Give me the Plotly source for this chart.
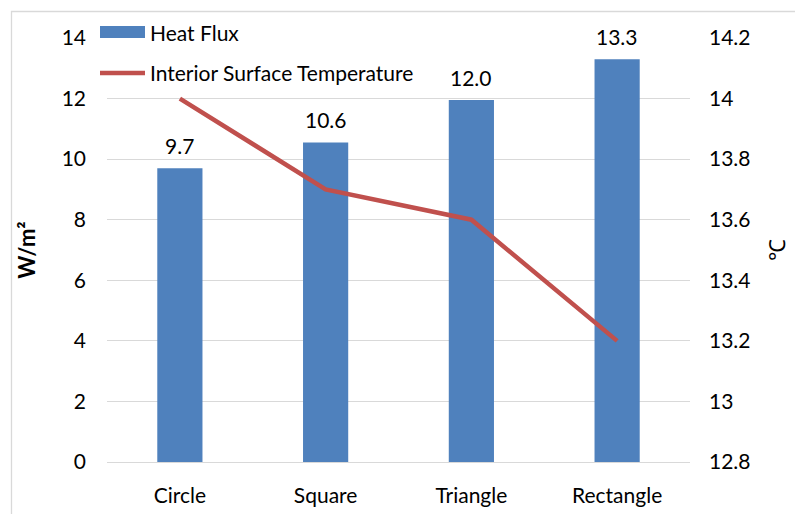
import plotly.graph_objects as go

categories = ["Circle", "Square", "Triangle", "Rectangle"]
heat_flux = [9.7, 10.55, 11.95, 13.3]
heat_flux_labels = ["9.7", "10.6", "12.0", "13.3"]
surface_temp = [14.0, 13.7, 13.6, 13.2]

left_ticks = [0, 2, 4, 6, 8, 10, 12, 14]
right_ticks = [12.8, 13.0, 13.2, 13.4, 13.6, 13.8, 14.0, 14.2]
right_tick_text = ["12.8", "13", "13.2", "13.4", "13.6", "13.8", "14", "14.2"]

FONT = "Lato"
FS = 21
BAR_COLOR = "#4F81BD"
LINE_COLOR = "#C0504D"
W, H = 803, 514
OFF = 8  # page body offset
L, R, T, B = 107 - OFF, 690 - OFF, 38 - OFF, 462 - OFF


def px(x):
    return (x - OFF - L) / (R - L)


def py(y):
    return (B - (y - OFF)) / (B - T)


fig = go.Figure()
fig.add_trace(go.Bar(
    x=categories, y=heat_flux, name="Heat Flux",
    marker=dict(color=BAR_COLOR, line=dict(width=0)),
    width=0.31, yaxis="y", showlegend=False,
))
fig.add_trace(go.Scatter(
    x=categories, y=surface_temp, name="Interior Surface Temperature",
    mode="lines", line=dict(color=LINE_COLOR, width=4.5),
    yaxis="y2", showlegend=False,
))

annotations = []
for c, v, t in zip(categories, heat_flux, heat_flux_labels):
    annotations.append(dict(x=c, y=v, xref="x", yref="y", text=t, showarrow=False,
                            yanchor="bottom", yshift=8,
                            font=dict(family=FONT, size=FS, color="#000000")))

# legend (drawn manually to match swatch shapes)
annotations.append(dict(x=px(148), y=py(32), xref="paper", yref="paper",
                        text="Heat Flux", showarrow=False, xanchor="left",
                        yanchor="middle", font=dict(family=FONT, size=FS, color="#000000")))
annotations.append(dict(x=px(148), y=py(73), xref="paper", yref="paper",
                        text="Interior Surface Temperature", showarrow=False,
                        xanchor="left", yanchor="middle",
                        font=dict(family=FONT, size=FS, color="#000000")))

shapes = [
    dict(type="rect", xref="paper", yref="paper",
         x0=px(11.5), x1=px(830), y0=py(11.5), y1=py(540),
         line=dict(color="#D9D9D9", width=1.3), fillcolor="rgba(0,0,0,0)",
         layer="below"),
    dict(type="rect", xref="paper", yref="paper",
         x0=px(100), x1=px(145), y0=py(38), y1=py(26),
         line=dict(width=0), fillcolor=BAR_COLOR, layer="above"),
    dict(type="line", xref="paper", yref="paper",
         x0=px(100), x1=px(145), y0=py(73), y1=py(73),
         line=dict(color=LINE_COLOR, width=4.5), layer="above"),
]

fig.update_layout(
    width=W, height=H,
    margin=dict(l=L, r=W - R, t=T, b=H - B),
    paper_bgcolor="white", plot_bgcolor="white",
    font=dict(family=FONT, size=FS, color="#000000"),
    showlegend=False,
    xaxis=dict(showgrid=False, showline=False, ticks="", ticklabelstandoff=19,
               tickfont=dict(size=FS, family=FONT)),
    yaxis=dict(range=[0, 14], tickvals=left_ticks, showgrid=True,
               gridcolor="#D9D9D9", gridwidth=1.3, zeroline=True,
               zerolinecolor="#D9D9D9", zerolinewidth=1.3, showline=False,
               ticks="", ticklabelstandoff=20,
               tickfont=dict(size=FS, family=FONT),
               title=dict(text="<b>W/m²</b>", font=dict(size=22, family=FONT), standoff=19)),
    yaxis2=dict(range=[12.8, 14.2], tickvals=right_ticks, ticktext=right_tick_text,
                overlaying="y", side="right", showgrid=False, zeroline=False,
                showline=False, ticks="", ticklabelstandoff=18,
                tickfont=dict(size=FS, family=FONT),
                title=dict(text="℃", font=dict(size=22, family=FONT), standoff=20)),
    shapes=shapes,
    annotations=annotations,
)

fig.write_html("out.html")
